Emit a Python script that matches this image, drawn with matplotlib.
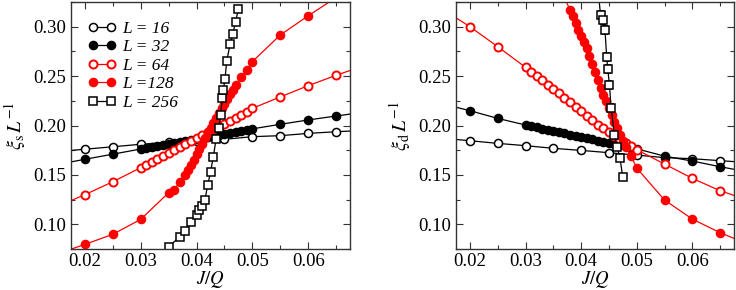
import matplotlib
matplotlib.use("Agg")
import matplotlib.pyplot as plt
from matplotlib.ticker import MultipleLocator

plt.rcParams['font.family'] = ['Liberation Serif', 'DejaVu Serif']
plt.rcParams['mathtext.fontset'] = 'stix'

# ---------------- data: left panel (xi_s / L) ----------------
x16 = [0.015, 0.02, 0.025, 0.03, 0.035, 0.04, 0.045, 0.05, 0.055, 0.06, 0.065, 0.07]
s16 = [0.1735, 0.176, 0.1785, 0.181, 0.183, 0.1846, 0.186, 0.1887, 0.1897, 0.192, 0.1937, 0.195]

x32 = [0.015, 0.02, 0.025, 0.03, 0.031, 0.032, 0.033, 0.034, 0.035, 0.036, 0.037, 0.038, 0.039,
       0.040, 0.041, 0.042, 0.043, 0.044, 0.045, 0.046, 0.047, 0.048, 0.049, 0.05, 0.055, 0.06,
       0.065, 0.07]
s32 = [0.1605, 0.1658, 0.171, 0.1762, 0.1772, 0.1782, 0.1792, 0.1802, 0.1812, 0.1822, 0.1832,
       0.1842, 0.1852, 0.1862, 0.1872, 0.1882, 0.1892, 0.1902, 0.1912, 0.1922, 0.1932, 0.1942,
       0.1952, 0.1966, 0.2012, 0.2056, 0.2096, 0.2135]

x64 = [0.015, 0.02, 0.025, 0.03, 0.031, 0.032, 0.033, 0.034, 0.035, 0.036, 0.037, 0.038, 0.039,
       0.040, 0.041, 0.042, 0.043, 0.044, 0.045, 0.046, 0.047, 0.048, 0.049, 0.05, 0.055, 0.06,
       0.065, 0.07]
s64 = [0.118, 0.130, 0.1431, 0.1573, 0.160, 0.163, 0.166, 0.169, 0.172, 0.175, 0.178, 0.181,
       0.184, 0.187, 0.190, 0.193, 0.196, 0.199, 0.202, 0.205, 0.208, 0.211, 0.214, 0.2174,
       0.2289, 0.2403, 0.2508, 0.2605]

x128 = [0.015, 0.02, 0.025, 0.03, 0.035, 0.036, 0.037, 0.038, 0.0385, 0.039, 0.0395, 0.040,
        0.0405, 0.041, 0.0415, 0.042, 0.0425, 0.043, 0.0435, 0.044, 0.0445, 0.045, 0.0455,
        0.046, 0.0465, 0.047, 0.048, 0.049, 0.05, 0.055, 0.06, 0.07]
s128 = [0.070, 0.0797, 0.0899, 0.105, 0.132, 0.135, 0.143, 0.150, 0.155, 0.160, 0.165, 0.171,
        0.176, 0.181, 0.187, 0.192, 0.197, 0.203, 0.208, 0.213, 0.218, 0.222, 0.227, 0.232,
        0.236, 0.241, 0.249, 0.256, 0.2646, 0.2916, 0.311, 0.348]

x256 = [0.034, 0.035, 0.037, 0.038, 0.039, 0.040, 0.0405, 0.041, 0.0415, 0.042, 0.0425, 0.043,
        0.0435, 0.044, 0.0443, 0.0446, 0.0448, 0.0451, 0.0454, 0.046, 0.0465, 0.047, 0.0475]
s256 = [0.070, 0.0773, 0.0875, 0.0932, 0.102, 0.1094, 0.1145, 0.1185, 0.1246, 0.140, 0.1526,
        0.1684, 0.186, 0.197, 0.2106, 0.2275, 0.236, 0.247, 0.265, 0.282, 0.293, 0.305, 0.318]

# ---------------- data: right panel (xi_d / L) ----------------
d16 = [0.1871, 0.1846, 0.1819, 0.1796, 0.1769, 0.1748, 0.1725, 0.170, 0.1675, 0.1664, 0.1644, 0.1625]

d32 = [0.222, 0.215, 0.2072, 0.2005, 0.1992, 0.1980, 0.1968, 0.1956, 0.1944, 0.1932, 0.1920,
       0.1908, 0.1896, 0.1884, 0.1872, 0.1860, 0.1848, 0.1836, 0.1824, 0.1812, 0.1800, 0.1788,
       0.1776, 0.1764, 0.169, 0.164, 0.1583, 0.153]

d64 = [0.318, 0.300, 0.2798, 0.2589, 0.2545, 0.2501, 0.246, 0.241, 0.2366, 0.2326, 0.2275,
       0.2235, 0.219, 0.2145, 0.210, 0.2055, 0.201, 0.197, 0.193, 0.189, 0.185, 0.182, 0.179,
       0.1755, 0.161, 0.1465, 0.134, 0.1245]

xd128 = [0.036, 0.038, 0.0385, 0.039, 0.0395, 0.040, 0.0405, 0.041, 0.0415, 0.042, 0.0425,
         0.043, 0.0435, 0.044, 0.0445, 0.045, 0.0455, 0.046, 0.0465, 0.047, 0.0475, 0.048,
         0.049, 0.05, 0.055, 0.06, 0.065, 0.07]
d128 = [0.342, 0.317, 0.311, 0.304, 0.297, 0.291, 0.285, 0.278, 0.270, 0.262, 0.254, 0.246,
        0.238, 0.231, 0.225, 0.218, 0.211, 0.204, 0.197, 0.190, 0.184, 0.178, 0.169, 0.157,
        0.1246, 0.1053, 0.0915, 0.080]

xd256 = [0.043, 0.0435, 0.044, 0.0443, 0.0446, 0.0448, 0.0451, 0.0454, 0.046, 0.0465, 0.047, 0.0475]
d256 = [0.340, 0.3118, 0.3067, 0.2966, 0.269, 0.257, 0.241, 0.2173, 0.1903, 0.1785, 0.1667, 0.1475]
e256 = [0.004, 0.004, 0.004, 0.004, 0.004, 0.004, 0.004, 0.004, 0.003, 0.003, 0.003, 0.003]

labels = ['L = 16', 'L = 32', 'L = 64', 'L =128', 'L = 256']
xticks = [0.02, 0.03, 0.04, 0.05, 0.06]
yticks = [0.10, 0.15, 0.20, 0.25, 0.30]

RED = '#ff0000'

fig = plt.figure(figsize=(7.36, 2.90), dpi=100)
axL = fig.add_axes([71 / 736, 1 - 249 / 290, 279 / 736, 247 / 290])
axR = fig.add_axes([456 / 736, 1 - 249 / 290, 278 / 736, 247 / 290])

ms = 5.8
lw = 0.9
mew = 1.1

def draw(ax, s16_, s32_, s64_, x128_, s128_, x256_, s256_, err=None):
    ax.plot(x16, s16_, '-o', color='black', mfc='white', mec='black', ms=ms, lw=lw, mew=mew,
            label=labels[0])
    ax.plot(x32, s32_, '-o', color='black', mfc='black', mec='black', ms=ms, lw=lw, mew=mew,
            label=labels[1])
    ax.plot(x64, s64_, '-o', color=RED, mfc='white', mec=RED, ms=ms, lw=lw, mew=1.4,
            label=labels[2])
    ax.plot(x128_, s128_, '-o', color=RED, mfc=RED, mec=RED, ms=ms, lw=lw, mew=mew,
            label=labels[3])
    if err is None:
        ax.plot(x256_, s256_, '-s', color='black', mfc='white', mec='black', ms=5.2, lw=lw,
                mew=mew, label=labels[4])
    else:
        ax.errorbar(x256_, s256_, yerr=err, fmt='-s', color='black', mfc='white', mec='black',
                    ms=5.2, lw=lw, mew=mew, capsize=2, elinewidth=0.8, label=labels[4])
    ax.set_xlim(0.0175, 0.0675)
    ax.set_ylim(0.075, 0.325)
    ax.set_xticks(xticks)
    ax.set_yticks(yticks)
    ax.set_xticklabels([f'{v:.2f}' for v in xticks])
    ax.set_yticklabels([f'{v:.2f}' for v in yticks])
    ax.xaxis.set_minor_locator(MultipleLocator(0.005))
    ax.yaxis.set_minor_locator(MultipleLocator(0.025))
    ax.tick_params(which='both', direction='in', top=True, right=True, labelsize=13.5,
                   color='#333333')
    ax.tick_params(axis='x', which='major', pad=3)
    ax.tick_params(which='major', length=5, width=0.8)
    ax.tick_params(which='minor', length=3, width=0.8)
    for sp in ax.spines.values():
        sp.set_linewidth(1.0)
        sp.set_color('#333333')
    ax.set_xlabel(r'$J/Q$', fontsize=13.5, labelpad=-1)

draw(axL, s16, s32, s64, x128, s128, x256, s256)
draw(axR, d16, d32, d64, xd128, d128, xd256, d256, err=e256)

axL.set_ylabel(r'$\xi_{\rm s}\,L^{-1}$', fontsize=14.5, labelpad=4)
axR.set_ylabel(r'$\xi_{\rm d}\,L^{-1}$', fontsize=14.5, labelpad=4)

handles, labs = axL.get_legend_handles_labels()
leg = axL.legend(handles, labs, loc='upper left', bbox_to_anchor=(0.005, 0.988), frameon=False,
                 numpoints=2, handlelength=1.6, handletextpad=0.35, labelspacing=0.14,
                 prop={'style': 'italic', 'size': 12.5, 'family': 'Liberation Serif'})

fig.savefig('out.png', dpi=100)
